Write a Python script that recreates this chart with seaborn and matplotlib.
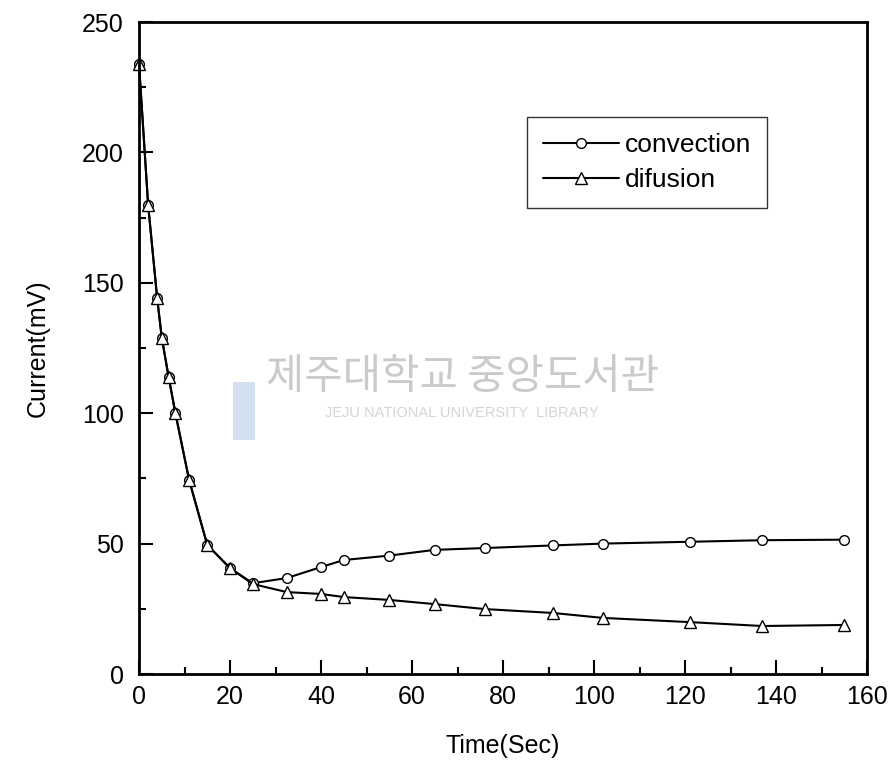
import matplotlib
matplotlib.use("Agg")
import matplotlib.pyplot as plt
import seaborn as sns
import pandas as pd
from matplotlib.ticker import MultipleLocator

time_conv = [0, 2, 4, 5, 6.5, 8, 11, 15, 20, 25, 32.5, 40, 45, 55, 65, 76, 91, 102, 121, 137, 155]
convection = [234, 180, 144, 129, 114, 100, 74.5, 49.5, 40.6, 34.8, 36.8, 41, 43.7, 45.4, 47.6, 48.3, 49.3, 50.0, 50.7, 51.3, 51.5]
time_dif = [0, 2, 4, 5, 6.5, 8, 11, 15, 20, 25, 32.5, 40, 45, 55, 65, 76, 91, 102, 121, 137, 155]
difusion = [234, 180, 144, 129, 114, 100, 74.5, 49.5, 40.6, 34.5, 31.4, 30.7, 29.5, 28.4, 26.8, 24.9, 23.4, 21.5, 19.9, 18.4, 18.8]

xticks = [0, 20, 40, 60, 80, 100, 120, 140, 160]
yticks = [0, 50, 100, 150, 200, 250]

sns.set_style("ticks")
plt.rcParams['font.family'] = ['Liberation Sans', 'DejaVu Sans']
plt.rcParams['text.color'] = 'black'
plt.rcParams['axes.labelcolor'] = 'black'
plt.rcParams['xtick.color'] = 'black'
plt.rcParams['ytick.color'] = 'black'
plt.rcParams['axes.edgecolor'] = 'black'

fig = plt.figure(figsize=(8.96, 7.67), dpi=100)
ax = fig.add_axes([139/896, 1 - 674/767, (867-139)/896, (674-22)/767])

# watermark
fig.text(463/896, 1 - 378/767, "제주대학교 중앙도서관", family=['Noto Sans CJK KR', 'DejaVu Sans'],
         fontsize=30, color='#cacaca', ha='center', va='center', zorder=0)
fig.text(462/896, 1 - 413/767, "JEJU NATIONAL UNIVERSITY  LIBRARY", fontsize=10.5,
         color='#d4d4d4', ha='center', va='center', zorder=0)
fig.patches.append(plt.Rectangle((233/896, 1 - 440/767), 22/896, 58/767, transform=fig.transFigure,
                                 facecolor='#d3e0ef', edgecolor='none', zorder=0))

df_c = pd.DataFrame({"t": time_conv, "v": convection})
df_d = pd.DataFrame({"t": time_dif, "v": difusion})

sns.lineplot(data=df_c, x="t", y="v", ax=ax, color='black', lw=1.5, marker='o', markersize=7,
             markerfacecolor='white', markeredgecolor='black', markeredgewidth=1.0, label='convection',
             clip_on=False)
sns.lineplot(data=df_d, x="t", y="v", ax=ax, color='black', lw=1.5, marker='^', markersize=9,
             markerfacecolor='white', markeredgecolor='black', markeredgewidth=1.0, label='difusion',
             clip_on=False)

ax.set_xlim(0, 160)
ax.set_ylim(0, 250)
ax.set_xticks(xticks)
ax.set_yticks(yticks)
ax.xaxis.set_minor_locator(MultipleLocator(10))
ax.yaxis.set_minor_locator(MultipleLocator(25))
ax.tick_params(which='major', direction='in', length=10, width=1.5, labelsize=18)
ax.tick_params(axis='x', which='major', pad=8)
ax.tick_params(axis='y', which='major', pad=11)
ax.tick_params(which='minor', direction='in', length=5, width=1.5)
ax.tick_params(top=False, right=False, which='both')
for s in ax.spines.values():
    s.set_visible(True)
    s.set_linewidth(2)
    s.set_color('black')
ax.patch.set_alpha(0)

ax.set_xlabel("Time(Sec)", fontsize=18, labelpad=18)
ax.set_ylabel("Current(mV)", fontsize=18, labelpad=23)

leg = ax.legend(loc='upper left', bbox_to_anchor=((527-139)/728, 1 - (117-22)/652), fontsize=19,
                frameon=True, fancybox=False, edgecolor='black', handlelength=2.9,
                handletextpad=0.2, borderpad=0.6, labelspacing=0.42, borderaxespad=0)
leg.get_frame().set_linewidth(1.0)

fig.savefig("out.png", dpi=100)
